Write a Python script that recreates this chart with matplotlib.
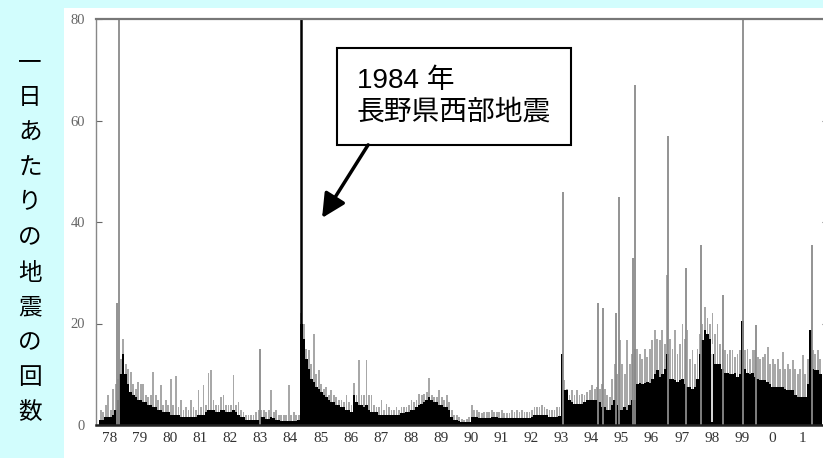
import numpy as np
import matplotlib.pyplot as plt
from matplotlib.patches import Rectangle

# typical daily count per month (dense black mass), Jan 1978 .. Dec 2001
dense_counts = [
    1, 1, 1.5, 1.5, 1.5, 2, 3, 5, 10, 14, 10, 8,                       # 1978
    6.5, 6, 5.5, 5, 5, 4.5, 4.5, 4, 4, 3.5, 3.5, 3,                    # 1979
    3, 2.5, 2.5, 2.5, 2, 2, 2, 2, 1.5, 1.5, 1.5, 1.5,                  # 1980
    1.5, 1.5, 1.5, 2, 2, 2, 2.5, 3, 3, 3, 2.5, 2.5,                    # 1981
    3, 3, 2.5, 2.5, 2.5, 3, 2.5, 2, 1.5, 1.5, 1, 1,                    # 1982
    1, 1, 1, 1, 1.5, 1.5, 1.2, 1.2, 1.5, 1.3, 1, 1,                    # 1983
    0.8, 0.8, 0.8, 0.8, 0.7, 0.7, 0.8, 1, 20, 17, 13, 11,              # 1984
    9, 8.5, 7.5, 7, 6.5, 6, 5.5, 5, 4.5, 4.5, 4, 4,                    # 1985
    3.5, 3.5, 3, 3, 2.5, 6, 4.5, 4, 4, 3.5, 4, 3,                      # 1986
    2.5, 2.5, 2.5, 2, 2, 2, 2, 2, 2, 2, 2, 2,                          # 1987
    2.3, 2.3, 2.5, 2.5, 3, 3, 3.5, 4, 4.2, 4.5, 5, 5.5,                # 1988
    5, 4.5, 4.5, 4, 4, 3.5, 3.5, 3, 1.5, 1, 1, 0.8,                    # 1989
    0.6, 0.6, 0.6, 0.6, 1.5, 1.6, 1.6, 1.3, 1.3, 1.3, 1.3, 1.3,        # 1990
    1.6, 1.5, 1.5, 1.4, 1.4, 1.3, 1.3, 1.3, 1.3, 1.3, 1.3, 1.3,        # 1991
    1.3, 1.3, 1.3, 1.3, 1.5, 1.9, 1.9, 1.9, 2, 2, 1.9, 1.6,            # 1992
    1.6, 1.6, 1.6, 1.8, 14, 6.9, 6.9, 5, 4.5, 4.2, 4.2, 4.2,           # 1993
    4.2, 4.5, 4.9, 4.9, 4.9, 4.9, 4.9, 4.5, 3.6, 3.6, 3, 3,            # 1994
    4, 4.9, 4, 3, 3, 3.5, 3, 4, 4.9, 4.9, 8, 8.2,                      # 1995
    8, 8.2, 8.5, 8.2, 9, 10, 10.8, 9.5, 10, 11, 14, 9,                 # 1996
    9, 8.8, 8.5, 8.8, 9, 8, 7.5, 7.5, 7, 7.5, 9, 14,                   # 1997
    16.7, 18.7, 18, 17, 14, 12.1, 12, 12, 11, 10.2, 10.2, 10,          # 1998
    10, 10.2, 9.5, 10, 20.4, 11, 10.2, 10, 10.2, 9.5, 9, 8.8,          # 1999
    8.8, 8.8, 8.5, 8, 7.5, 7.5, 7.5, 7.5, 7.5, 7, 6.9, 6.9,            # 2000
    6.9, 6, 5.5, 5.5, 5.5, 5.5, 8, 18.7, 11, 10.8, 10.8, 10,           # 2001
]

# highest daily count per month (grey tops)
peak_counts = [
    3, 2.5, 4, 6, 3, 7, 8, 9, 13, 17, 12, 11,
    10.5, 8, 7, 8.5, 8, 8, 6, 5.5, 6, 10.5, 6, 5,
    7.8, 4, 5, 4, 9, 4, 9.7, 3.5, 5, 3, 3.5, 3,
    5, 3.5, 3, 6.9, 3.5, 7.9, 4, 10.2, 10.8, 5, 4, 4,
    5.5, 5.9, 4, 4, 4, 9.8, 4, 4.5, 3, 2.5, 2, 2,
    2, 2, 2.5, 3, 3, 3, 2.5, 3, 6.9, 2.5, 3, 2,
    2, 2, 2, 7.9, 2, 2.5, 2, 2, 22, 20, 15, 14.8,
    12, 18, 10, 10.8, 8, 7, 7.5, 6, 6.9, 6, 5.5, 5,
    5, 4.5, 5.9, 4.5, 4, 8.2, 6, 12.8, 6, 6, 12.8, 6,
    5.9, 4, 3.5, 3.5, 4.9, 3, 4.2, 3.5, 3, 3, 3.5, 3,
    3.6, 3.5, 3.6, 4, 4.9, 4.5, 5, 6.2, 6, 6.2, 6.5, 9.2,
    6, 5.5, 5.5, 6.9, 5.5, 5, 5.9, 4.5, 3, 2, 2, 1.5,
    1.2, 1, 1.2, 1.5, 3.9, 3, 3, 2.6, 2.3, 2.6, 2.5, 2.6,
    2.9, 2.5, 2.5, 2.5, 2.9, 2.4, 2.4, 2.4, 2.9, 2.5, 2.9, 2.6,
    2.9, 2.6, 2.6, 2.6, 3, 3.6, 3.6, 3.5, 3.9, 3.6, 3.2, 2.9,
    3, 3, 3.5, 3.5, 14, 8.8, 7, 6, 6.9, 6, 6.9, 6,
    6.2, 6, 6.5, 6.9, 7.9, 7, 7.5, 7, 8, 7, 6, 5.5,
    9, 12, 10, 16.7, 12, 10, 16.7, 12, 14, 15, 15, 14,
    13, 15, 13.4, 15, 16.7, 18.7, 17, 16.7, 18.7, 16, 29.6, 17,
    15, 18.7, 14, 16, 20, 17, 18.7, 13, 14.8, 12, 15, 18,
    20, 23.3, 21, 20, 22, 18, 20, 16, 15, 14.8, 14, 14.8,
    14.8, 13.4, 14, 14.8, 20.4, 14.8, 15, 13, 14.8, 14.8, 13.4, 13,
    13.4, 14, 15.4, 12, 13, 12, 13, 11, 14.4, 11, 12, 11,
    12.8, 11, 10, 11, 13.8, 10, 13, 18.7, 14.8, 14, 14.8, 13,
]

# single days that stand out
spike_years = [1978.58, 1978.65, 1983.35, 1993.40, 1994.56, 1994.73, 1995.16, 1995.27,
               1995.73, 1995.80, 1996.90, 1997.49, 1997.99, 1998.72, 1999.38, 1999.81, 2001.68]
spike_counts = [24, 90, 15, 46, 24, 23, 22, 45, 33, 67, 57, 31, 35.5, 25.6, 90, 19.7, 35.5]

main_shock_year = 1984.70
gap_years = [1998.37]

year_labels = ['78', '79', '80', '81', '82', '83', '84', '85', '86', '87', '88', '89',
               '90', '91', '92', '93', '94', '95', '96', '97', '98', '99', '0', '1']
ylabel_chars = '一日あたりの地震の回数'

start_year = 1978
month_x = start_year + np.arange(len(dense_counts)) / 12.0

plt.rcParams['font.family'] = ['Liberation Serif', 'DejaVu Serif']

fig = plt.figure(figsize=(8.23, 4.58), dpi=100)
fig.patch.set_facecolor('#d2fdfd')
fig.add_artist(Rectangle((64 / 823, 0), 1 - 64 / 823, 450 / 458, transform=fig.transFigure,
                         facecolor='white', edgecolor='none', zorder=0))

ax = fig.add_axes([96 / 823, 33 / 458, 731.6 / 823, 406 / 458])
ax.set_facecolor('white')

# grey fringe of the busiest days, then the black mass on top
ax.bar(month_x + 0.5 / 12, peak_counts, width=0.7 / 12, color='#a8a8a8', linewidth=0)
ax.bar(month_x, dense_counts, width=1 / 12, align='edge', color='black', linewidth=0)
ax.vlines(spike_years, 0, spike_counts, colors='#8a8a8a', linewidth=1.3)
ax.vlines([main_shock_year], 0, 90, colors='black', linewidth=1.8)
gap_top = [dense_counts[int((g - start_year) * 12)] + 2 for g in gap_years]
ax.vlines(gap_years, 0.5, gap_top, colors='white', linewidth=1.2)

ax.set_xlim(1977.887, 2002.2)
ax.set_ylim(0, 80)
ax.set_xticks(np.arange(len(year_labels)) + start_year + 0.35)
ax.set_xticklabels(year_labels)
ax.set_yticks([0, 20, 40, 60, 80])
ax.tick_params(axis='x', length=0, pad=5, labelsize=11, labelcolor='#333333')
ax.tick_params(axis='y', direction='in', length=4, left=True, right=True, pad=8,
               labelsize=10.5, labelcolor='#666666', color='#666666')

for side in ['left', 'right']:
    ax.spines[side].set_color('#888888')
    ax.spines[side].set_linewidth(1.0)
ax.spines['top'].set_color('#777777')
ax.spines['top'].set_linewidth(1.6)
ax.spines['bottom'].set_color('#222222')
ax.spines['bottom'].set_linewidth(1.8)

ax.text(1986.56, 64.7, '1984 年\n長野県西部地震', fontsize=20,
        family=['Liberation Sans', 'Noto Sans CJK JP'], va='center', ha='left', linespacing=1.25,
        bbox=dict(boxstyle='square,pad=0.72', facecolor='white', edgecolor='black', linewidth=1.5))
ax.annotate('', xy=(1985.40, 40.8), xytext=(1986.93, 55.2),
            arrowprops=dict(arrowstyle='-|>,head_length=0.8,head_width=0.4', lw=2.5,
                            color='black', shrinkA=0, shrinkB=0, mutation_scale=18))

for i, ch in enumerate(ylabel_chars):
    fig.text(30 / 823, 1 - (63 + 35 * i) / 458, ch, ha='center', va='center',
             fontsize=17, family=['Noto Sans CJK JP'])

fig.savefig('out.png', dpi=100)
